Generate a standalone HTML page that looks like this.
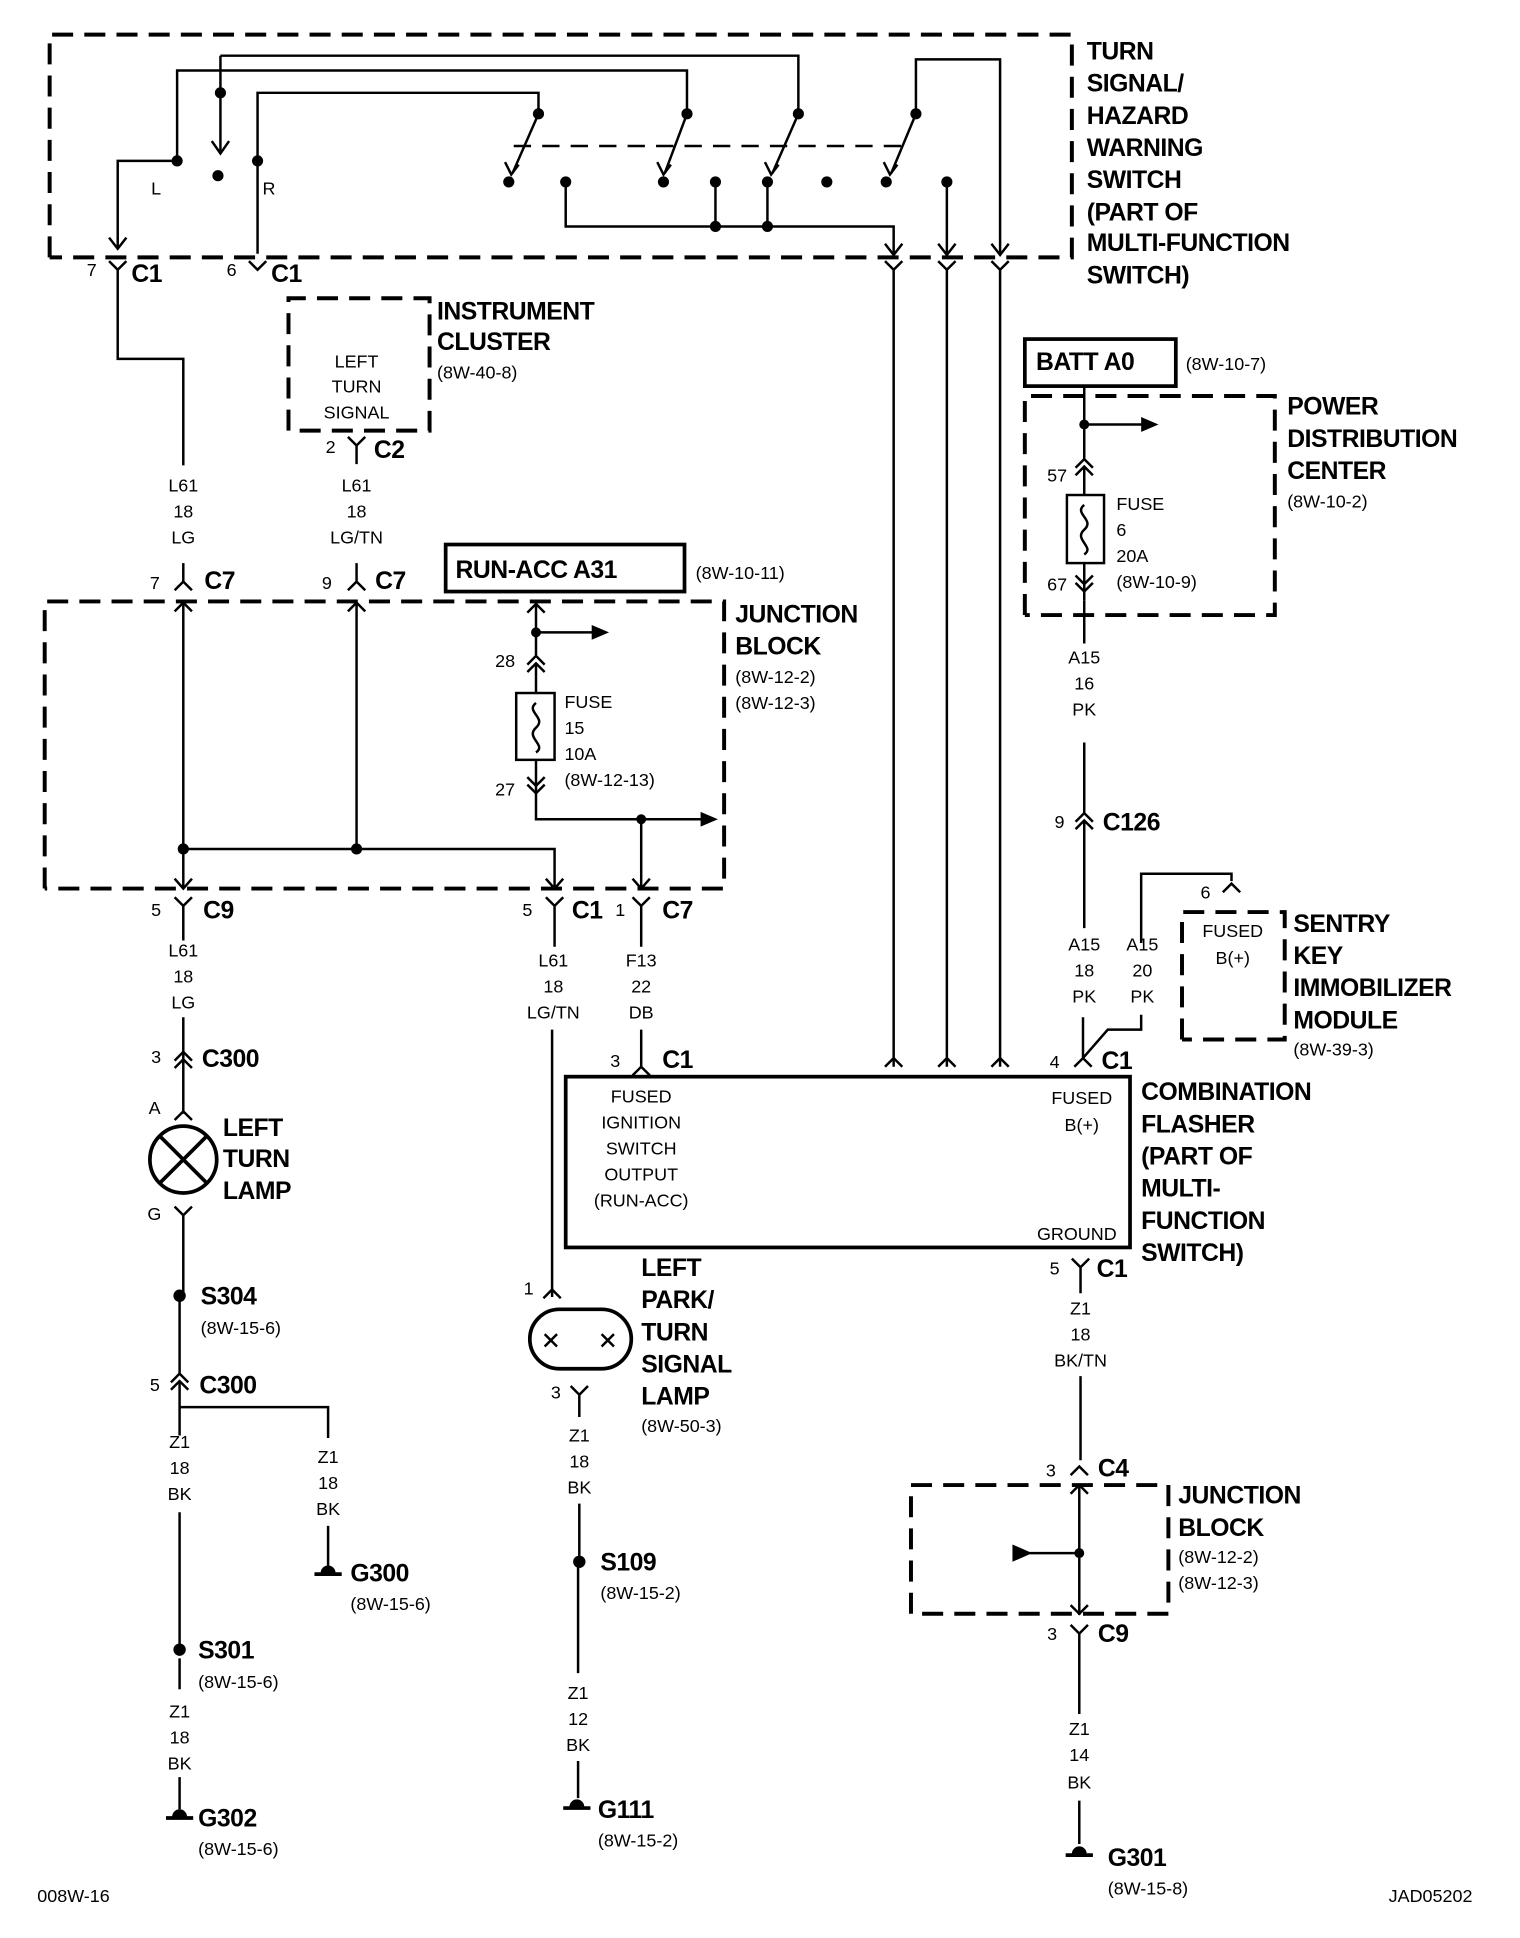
<!DOCTYPE html>
<html><head><meta charset="utf-8"><style>
html,body{margin:0;padding:0;background:#fff;}
svg{display:block;}
.b{font-family:"Liberation Sans Narrow","Liberation Sans",sans-serif;font-weight:bold;font-size:20px;fill:#000;letter-spacing:-0.4px;}
.s{font-family:"Liberation Sans Narrow","Liberation Sans",sans-serif;font-size:14.5px;fill:#000;}
.c{text-anchor:middle;}
.w{stroke:#000;stroke-width:2;fill:none;}
.d{stroke:#000;stroke-width:3.2;fill:none;stroke-dasharray:17 9;}
.k{stroke:#000;stroke-width:3;fill:none;}
</style></head><body>
<svg width="1520" height="1938" viewBox="0 0 1228 1566" xmlns="http://www.w3.org/2000/svg">
<rect width="1228" height="1566" fill="#fff"/>

<!-- ===== Top switch ===== -->
<path class="d" d="M40 208 V28 H866 V208 H40"/>
<g class="w">
<path d="M95 200 V130 H143 V57 H555 V92"/>
<path d="M178 45 H645 V92"/>
<path d="M178 45 V122"/>
<path d="M208 205 V75 H435 V92"/>
<path d="M740 92 V48 H808 V205"/>
<path d="M435 92 L414 140 M555 92 L537 140 M645 92 L624 140 M740 92 L720 140"/>
<path d="M457 147 V183 H722 V205 M578 147 V183 M620 147 V183 M765 147 V205"/>
<path d="M88 192 L95 201 L102 192 M171 114 L178 124 L185 114"/>
<path d="M715 197 L722 206 L729 197 M758 197 L765 206 L772 197 M801 197 L808 206 L815 197"/>
<path d="M408 131 L413 141 L419 133 M531 131 L536 141 L542 133 M618 131 L623 141 L629 133 M714 131 L719 141 L725 133"/>
</g>
<path d="M415 118 H730" stroke="#000" stroke-width="2" stroke-dasharray="14 9"/>
<g fill="#000">
<circle cx="143" cy="130" r="4.5"/><circle cx="178" cy="75" r="4.5"/><circle cx="176" cy="142" r="4.5"/>
<circle cx="208" cy="130" r="4.5"/><circle cx="435" cy="92" r="4.5"/><circle cx="555" cy="92" r="4.5"/>
<circle cx="645" cy="92" r="4.5"/><circle cx="740" cy="92" r="4.5"/>
<circle cx="411" cy="147" r="4.5"/><circle cx="457" cy="147" r="4.5"/><circle cx="536" cy="147" r="4.5"/>
<circle cx="578" cy="147" r="4.5"/><circle cx="620" cy="147" r="4.5"/><circle cx="668" cy="147" r="4.5"/>
<circle cx="716" cy="147" r="4.5"/><circle cx="765" cy="147" r="4.5"/>
<circle cx="578" cy="183" r="4.5"/><circle cx="620" cy="183" r="4.5"/>
</g>
<text class="s" x="122" y="157">L</text><text class="s" x="212" y="157">R</text>
<g class="b"><text x="878" y="48">TURN</text><text x="878" y="74">SIGNAL/</text><text x="878" y="100">HAZARD</text><text x="878" y="126">WARNING</text><text x="878" y="152">SWITCH</text><text x="878" y="178">(PART OF</text><text x="878" y="203">MULTI-FUNCTION</text><text x="878" y="229">SWITCH)</text></g>

<!-- C1 connectors under switch -->
<g class="w">
<path d="M88 211 L95 218 L102 211 M95 218 V290 H148 V376"/>
<path d="M201 211 L208 218 L215 211"/>
<path d="M715 211 L722 218 L729 211 M722 218 V862"/>
<path d="M758 211 L765 218 L772 211 M765 218 V862"/>
<path d="M801 211 L808 218 L815 211 M808 218 V862"/>
<path d="M715 862 L722 855 L729 862 M758 862 L765 855 L772 862 M801 862 L808 855 L815 862"/>
</g>
<text class="s" x="70" y="223">7</text><text class="b" x="106" y="228">C1</text>
<text class="s" x="183" y="223">6</text><text class="b" x="219" y="228">C1</text>

<!-- Instrument cluster -->
<path class="d" d="M233 348 V241 H347 V348 H240"/>
<g class="s c"><text x="288" y="297">LEFT</text><text x="288" y="317">TURN</text><text x="288" y="338">SIGNAL</text></g>
<g class="b"><text x="353" y="258">INSTRUMENT</text><text x="353" y="283">CLUSTER</text></g>
<text class="s" x="353" y="306">(8W-40-8)</text>
<path class="w" d="M281 353 L288 360 L295 353 M288 360 V375"/>
<text class="s" x="263" y="366">2</text><text class="b" x="302" y="370">C2</text>
<g class="s c"><text x="148" y="397">L61</text><text x="148" y="418">18</text><text x="148" y="439">LG</text>
<text x="288" y="397">L61</text><text x="288" y="418">18</text><text x="288" y="439">LG/TN</text></g>

<!-- C7 -->
<path class="w" d="M148 455 V470 M141 477 L148 470 L155 477 M288 455 V470 M281 477 L288 470 L295 477"/>
<text class="s" x="121" y="476">7</text><text class="b" x="165" y="476">C7</text>
<text class="s" x="260" y="476">9</text><text class="b" x="303" y="476">C7</text>

<!-- Junction block upper -->
<path class="d" d="M36 718 V486 H585 V718 H36"/>
<g class="w">
<path d="M141 494 L148 487 L155 494 M148 487 V718 M141 710 L148 718 L155 710"/>
<path d="M281 494 L288 487 L295 494 M288 487 V686"/>
<path d="M148 686 H448 V718 M441 710 L448 718 L455 710"/>
</g>
<g fill="#000"><circle cx="148" cy="686" r="4.5"/><circle cx="288" cy="686" r="4.5"/></g>
<g class="b"><text x="594" y="503">JUNCTION</text><text x="594" y="529">BLOCK</text></g>
<text class="s" x="594" y="552">(8W-12-2)</text><text class="s" x="594" y="573">(8W-12-3)</text>

<!-- RUN-ACC -->
<rect class="k" x="360" y="440" width="193" height="38"/>
<text class="b" x="368" y="467">RUN-ACC A31</text>
<text class="s" x="562" y="468">(8W-10-11)</text>
<g class="w">
<path d="M426 495 L433 488 L440 495 M433 488 V530"/>
<path d="M433 511 H480"/>
<path d="M426 537 L433 530 L440 537 M426 543 L433 536 L440 543"/>
<path d="M433 536 V560 M433 614 V640"/>
<path d="M426 628 L433 635 L440 628 M426 634 L433 641 L440 634"/>
<path d="M433 641 V662 H570 M518 662 V718 M511 710 L518 718 L525 710"/>
<path d="M433 568 C424 575 442 580 433 588 C424 596 442 602 433 608"/>
</g>
<rect class="w" x="417" y="560" width="31" height="54"/>
<path d="M478 505 L492 511 L478 517 Z M566 656 L580 662 L566 668 Z" fill="#000"/>
<circle cx="433" cy="511" r="4" fill="#000"/><circle cx="518" cy="662" r="4" fill="#000"/>
<text class="s" x="400" y="539">28</text><text class="s" x="400" y="643">27</text>
<g class="s"><text x="456" y="572">FUSE</text><text x="456" y="593">15</text><text x="456" y="614">10A</text><text x="456" y="635">(8W-12-13)</text></g>

<!-- Below junction block -->
<g class="w">
<path d="M141 725 L148 732 L155 725 M148 732 V760"/>
<path d="M441 725 L448 732 L455 725 M448 732 V765"/>
<path d="M511 725 L518 732 L525 725 M518 732 V765"/>
</g>
<text class="s" x="122" y="740">5</text><text class="b" x="164" y="742">C9</text>
<text class="s" x="422" y="740">5</text><text class="b" x="462" y="742">C1</text>
<text class="s" x="497" y="740">1</text><text class="b" x="535" y="742">C7</text>
<g class="s c"><text x="148" y="773">L61</text><text x="148" y="794">18</text><text x="148" y="815">LG</text>
<text x="447" y="781">L61</text><text x="447" y="802">18</text><text x="447" y="823">LG/TN</text>
<text x="518" y="781">F13</text><text x="518" y="802">22</text><text x="518" y="823">DB</text></g>
<g class="w">
<path d="M148 822 V860 M446 832 V1048 M518 832 V862"/>
<path d="M511 869 L518 862 L525 869"/>
<path d="M141 857 L148 850 L155 857 M141 863 L148 856 L155 863 M148 856 V900"/>
<path d="M141 905 L148 898 L155 905"/>
</g>
<text class="s" x="493" y="862">3</text><text class="b" x="535" y="863">C1</text>
<text class="s" x="122" y="859">3</text><text class="b" x="163" y="862">C300</text>
<text class="s" x="120" y="900">A</text>
<!-- left turn lamp -->
<circle cx="148" cy="937" r="27" class="k"/>
<path class="k" d="M129 918 L167 956 M167 918 L129 956"/>
<g class="b"><text x="180" y="918">LEFT</text><text x="180" y="943">TURN</text><text x="180" y="969">LAMP</text></g>
<text class="s" x="119" y="986">G</text>
<path class="w" d="M141 975 L148 982 L155 975 M148 982 V1045 M145 1048 V1110"/>
<circle cx="145" cy="1047" r="5" fill="#000"/>
<text class="b" x="162" y="1054">S304</text><text class="s" x="162" y="1078">(8W-15-6)</text>
<path class="w" d="M138 1117 L145 1110 L152 1117 M138 1123 L145 1116 L152 1123 M145 1116 V1160 M145 1137 H265 V1162"/>
<text class="s" x="121" y="1124">5</text><text class="b" x="161" y="1126">C300</text>
<g class="s c"><text x="145" y="1170">Z1</text><text x="145" y="1191">18</text><text x="145" y="1212">BK</text>
<text x="265" y="1182">Z1</text><text x="265" y="1203">18</text><text x="265" y="1224">BK</text></g>
<path class="w" d="M265 1233 V1265 M145 1222 V1330 M145 1340 V1365 M145 1436 V1462"/>
<circle cx="145" cy="1333" r="5" fill="#000"/>
<text class="b" x="160" y="1340">S301</text><text class="s" x="160" y="1364">(8W-15-6)</text>
<g class="s c"><text x="145" y="1388">Z1</text><text x="145" y="1409">18</text><text x="145" y="1430">BK</text></g>
<!-- grounds -->
<path d="M259 1271 A6 6 0 0 1 271 1271 Z M139 1468 A6 6 0 0 1 151 1468 Z M460 1460 A6 6 0 0 1 472 1460 Z M866 1498 A6 6 0 0 1 878 1498 Z" fill="#000"/>
<path class="k" d="M254 1272 H276 M134 1469 H156 M455 1461 H477 M861 1499 H883"/>
<text class="b" x="283" y="1278">G300</text><text class="s" x="283" y="1301">(8W-15-6)</text>
<text class="b" x="160" y="1476">G302</text><text class="s" x="160" y="1499">(8W-15-6)</text>

<!-- Left park lamp -->
<path class="w" d="M439 1049 L446 1042 L453 1049"/>
<text class="s" x="423" y="1046">1</text>
<rect class="k" x="428" y="1058" width="82" height="48" rx="24"/>
<path class="w" d="M440 1078 L450 1088 M450 1078 L440 1088 M486 1078 L496 1088 M496 1078 L486 1088"/>
<path class="w" d="M461 1120 L468 1127 L475 1120 M468 1127 V1145"/>
<text class="s" x="445" y="1130">3</text>
<g class="b"><text x="518" y="1031">LEFT</text><text x="518" y="1057">PARK/</text><text x="518" y="1083">TURN</text><text x="518" y="1109">SIGNAL</text><text x="518" y="1135">LAMP</text></g>
<text class="s" x="518" y="1157">(8W-50-3)</text>
<g class="s c"><text x="468" y="1165">Z1</text><text x="468" y="1186">18</text><text x="468" y="1207">BK</text>
<text x="467" y="1373">Z1</text><text x="467" y="1394">12</text><text x="467" y="1415">BK</text></g>
<path class="w" d="M468 1215 V1260 M467 1262 V1352 M467 1423 V1453"/>
<circle cx="468" cy="1262" r="5" fill="#000"/>
<text class="b" x="485" y="1269">S109</text><text class="s" x="485" y="1292">(8W-15-2)</text>
<text class="b" x="483" y="1469">G111</text><text class="s" x="483" y="1492">(8W-15-2)</text>

<!-- Combination flasher -->
<rect class="k" x="457" y="870" width="456" height="138"/>
<g class="s c"><text x="518" y="891">FUSED</text><text x="518" y="912">IGNITION</text><text x="518" y="933">SWITCH</text><text x="518" y="954">OUTPUT</text><text x="518" y="975">(RUN-ACC)</text>
<text x="874" y="892">FUSED</text><text x="874" y="914">B(+)</text><text x="870" y="1002">GROUND</text></g>
<g class="b"><text x="922" y="889">COMBINATION</text><text x="922" y="915">FLASHER</text><text x="922" y="941">(PART OF</text><text x="922" y="967">MULTI-</text><text x="922" y="993">FUNCTION</text><text x="922" y="1019">SWITCH)</text></g>
<path class="w" d="M868 862 L875 855 L882 862 M875 855 V822 M875 855 L895 832 H922 V820 M922 762 V706 H995 V712 M988 721 L995 714 L1002 721"/>
<text class="s" x="848" y="863">4</text><text class="b" x="890" y="864">C1</text>
<path class="w" d="M866 1017 L873 1024 L880 1017 M873 1024 V1045 M873 1112 V1180"/>
<text class="s" x="848" y="1030">5</text><text class="b" x="886" y="1032">C1</text>
<g class="s c"><text x="873" y="1062">Z1</text><text x="873" y="1083">18</text><text x="873" y="1104">BK/TN</text></g>
<path class="w" d="M865 1192 L872 1185 L879 1192 M865 1207 L872 1200 L879 1207 M872 1200 V1305 M865 1297 L872 1304 L879 1297 M832 1255 H872"/>
<text class="s" x="845" y="1193">3</text><text class="b" x="887" y="1193">C4</text>
<path class="d" d="M736 1304 V1200 H944 V1304 H736"/>
<path d="M818 1248 L834 1255 L818 1262 Z" fill="#000"/><circle cx="872" cy="1255" r="4" fill="#000"/>
<g class="b"><text x="952" y="1215">JUNCTION</text><text x="952" y="1241">BLOCK</text></g>
<text class="s" x="952" y="1263">(8W-12-2)</text><text class="s" x="952" y="1284">(8W-12-3)</text>
<path class="w" d="M865 1313 L872 1320 L879 1313 M872 1320 V1385 M872 1455 V1490"/>
<text class="s" x="846" y="1325">3</text><text class="b" x="887" y="1327">C9</text>
<g class="s c"><text x="872" y="1402">Z1</text><text x="872" y="1423">14</text><text x="872" y="1445">BK</text></g>
<text class="b" x="895" y="1508">G301</text><text class="s" x="895" y="1531">(8W-15-8)</text>

<!-- Power distribution center -->
<rect class="k" x="828" y="274" width="122" height="38"/>
<text class="b" x="837" y="299">BATT A0</text><text class="s" x="958" y="299">(8W-10-7)</text>
<path class="d" d="M828 497 V320 H1030 V497 H828"/>
<g class="w">
<path d="M876 312 V372 M876 343 H925"/>
<path d="M869 378 L876 371 L883 378 M869 384 L876 377 L883 384 M876 377 V400 M876 455 V485"/>
<path d="M869 465 L876 472 L883 465 M869 471 L876 478 L883 471"/>
<path d="M876 408 C867 415 885 420 876 428 C867 436 885 442 876 448"/>
</g>
<rect class="w" x="862" y="400" width="30" height="55"/>
<path d="M922 337 L936 343 L922 349 Z" fill="#000"/><circle cx="876" cy="343" r="4" fill="#000"/>
<text class="s" x="846" y="389">57</text><text class="s" x="846" y="477">67</text>
<g class="s"><text x="902" y="412">FUSE</text><text x="902" y="433">6</text><text x="902" y="454">20A</text><text x="902" y="475">(8W-10-9)</text></g>
<g class="b"><text x="1040" y="335">POWER</text><text x="1040" y="361">DISTRIBUTION</text><text x="1040" y="387">CENTER</text></g>
<text class="s" x="1040" y="410">(8W-10-2)</text>
<g class="s c"><text x="876" y="536">A15</text><text x="876" y="557">16</text><text x="876" y="578">PK</text></g>
<path class="w" d="M876 485 V520 M876 600 V657 M869 664 L876 657 L883 664 M869 670 L876 663 L883 670 M876 663 V750"/>
<text class="s" x="852" y="669">9</text><text class="b" x="891" y="671">C126</text>
<g class="s c"><text x="876" y="768">A15</text><text x="876" y="789">18</text><text x="876" y="810">PK</text>
<text x="923" y="768">A15</text><text x="923" y="789">20</text><text x="923" y="810">PK</text></g>
<!-- Sentry -->
<path class="d" d="M955 840 V737 H1038 V840 H955"/>
<text class="s" x="970" y="726">6</text>
<g class="s c"><text x="996" y="757">FUSED</text><text x="996" y="779">B(+)</text></g>
<g class="b"><text x="1045" y="753">SENTRY</text><text x="1045" y="779">KEY</text><text x="1045" y="805">IMMOBILIZER</text><text x="1045" y="831">MODULE</text></g>
<text class="s" x="1045" y="853">(8W-39-3)</text>

<text class="s" x="30" y="1537">008W-16</text>
<text class="s" x="1122" y="1537">JAD05202</text>
</svg>
</body></html>
